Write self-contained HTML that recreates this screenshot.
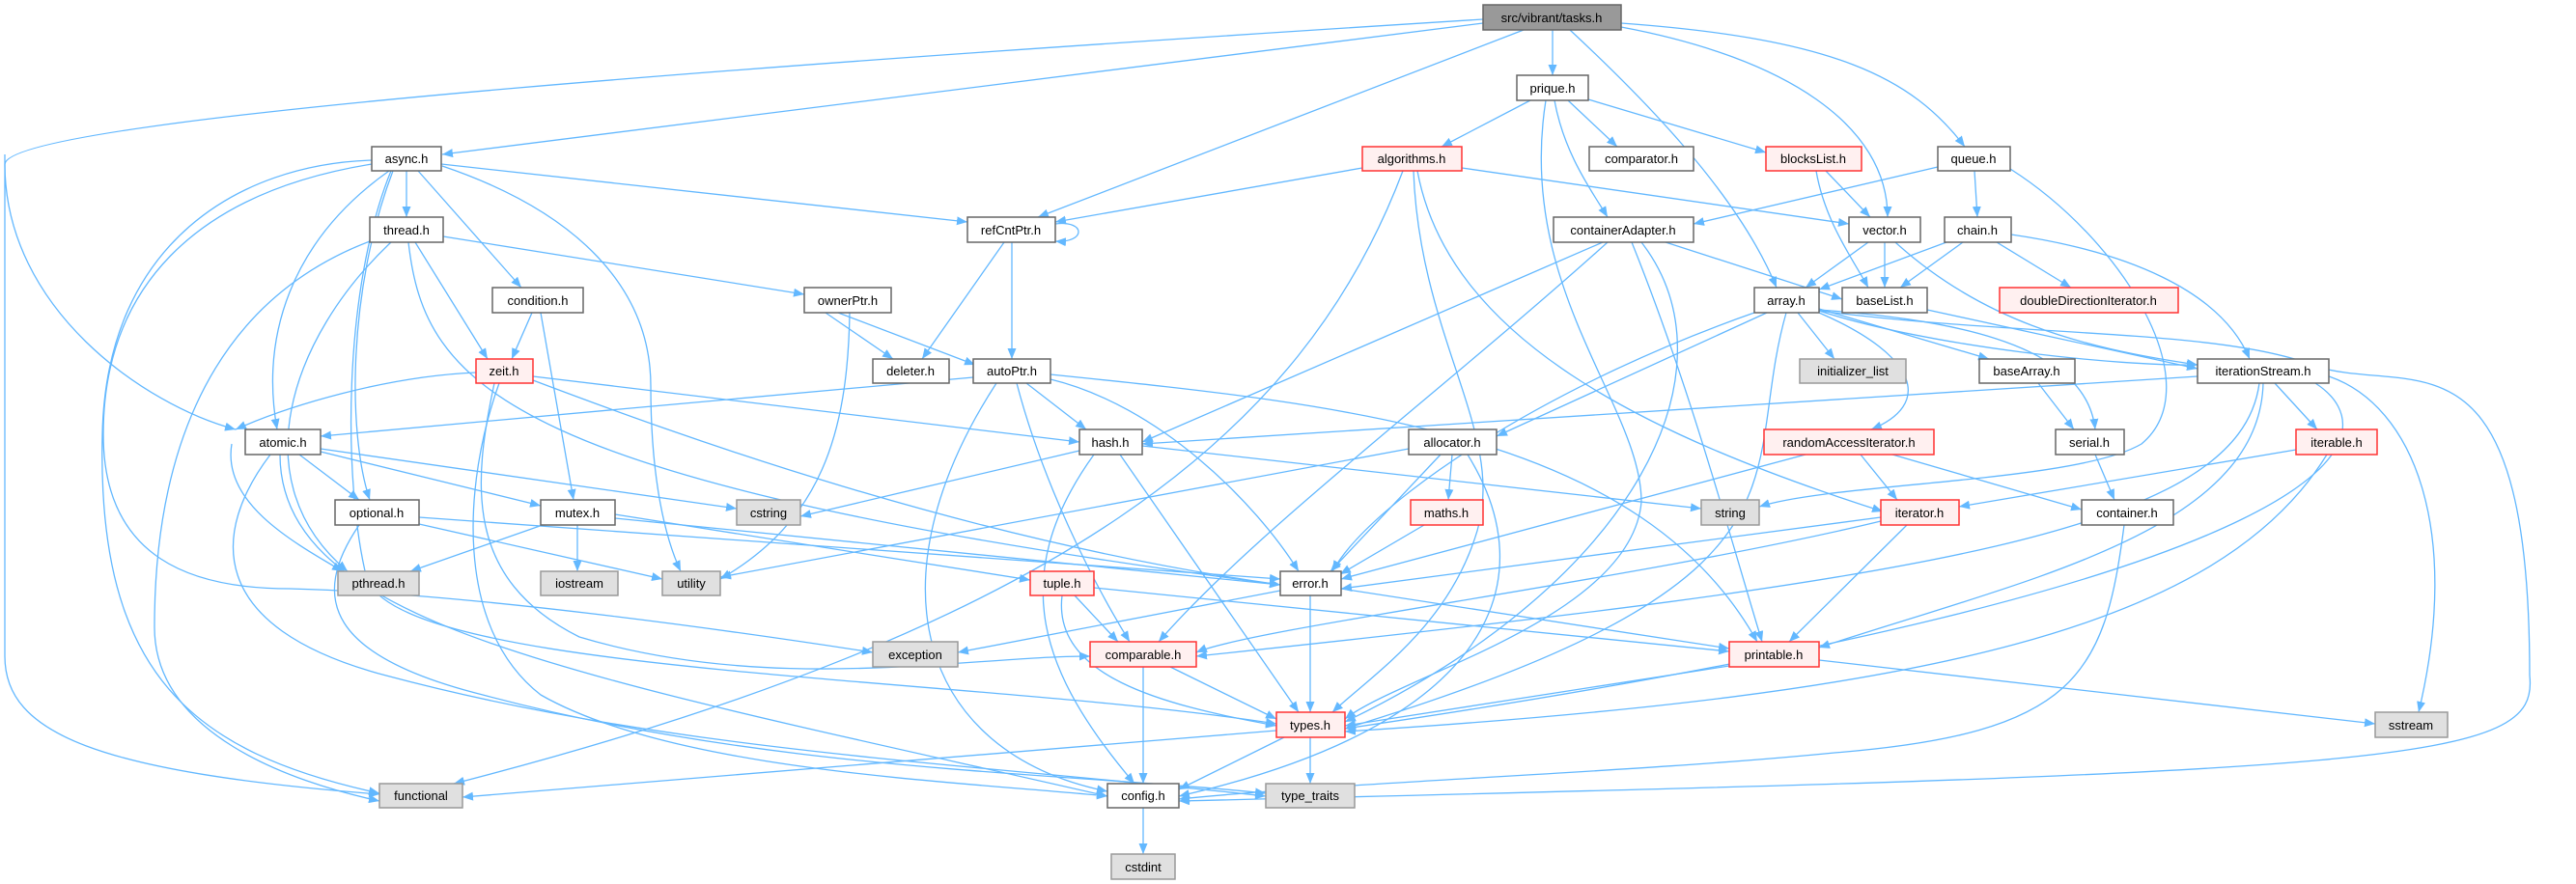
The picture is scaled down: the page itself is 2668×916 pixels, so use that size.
<!DOCTYPE html>
<html><head><meta charset="utf-8"><style>
html,body{margin:0;padding:0;background:#fff;}
svg{display:block;}
text{font-family:"Liberation Sans",sans-serif;font-size:13px;text-anchor:middle;fill:#000;}
.e path{fill:none;stroke:#63b8ff;stroke-width:1.3;}
</style></head><body>
<svg width="2668" height="916" viewBox="0 0 2668 916" xmlns="http://www.w3.org/2000/svg">
<defs><marker id="a" markerWidth="12" markerHeight="10" refX="11" refY="4.5" orient="auto" markerUnits="userSpaceOnUse"><path d="M0,0 L11,4.5 L0,9z" fill="#63b8ff"/></marker></defs>
<g class="e" marker-end="url(#a)">
<path d="M1536,24 L458,160"/>
<path d="M1536,20 C900,60 10,120 5,170 C5,320 150,420 244,445"/>
<path d="M5,160 L5,680 C5,760 100,800 393,823"/>
<path d="M1578,31 L1075,225"/>
<path d="M1608,31 L1608,78"/>
<path d="M1626,31 C1700,100 1800,200 1840,298"/>
<path d="M1679,28 C1850,60 1955,130 1955,225"/>
<path d="M1679,24 C1900,40 1980,80 2035,152"/>
<path d="M1585,104 L1493,152"/>
<path d="M1624,104 L1675,152"/>
<path d="M1610,104 C1620,160 1650,200 1665,225"/>
<path d="M1645,103 L1829,158"/>
<path d="M1601,104 C1570,300 1700,420 1700,520 C1690,640 1450,700 1393,745"/>
<path d="M1411,174 L1093,230"/>
<path d="M1514,174 L1915,232"/>
<path d="M1453,177 C1350,450 1100,650 470,812"/>
<path d="M1464,177 C1470,350 1560,450 1530,550 C1500,650 1420,700 1380,738"/>
<path d="M1468,177 C1500,350 1700,450 1950,530"/>
<path d="M1891,177 L1937,225"/>
<path d="M1881,177 C1890,230 1920,270 1935,298"/>
<path d="M2007,173 L1754,232"/>
<path d="M2045,177 L2048,225"/>
<path d="M2082,175 C2200,250 2290,400 2218,460 C2150,500 1900,500 1822,525"/>
<path d="M1660,251 L1183,458"/>
<path d="M1665,251 C1500,400 1300,550 1200,665"/>
<path d="M1690,251 C1750,400 1790,550 1825,665"/>
<path d="M1725,251 L1908,310"/>
<path d="M1700,251 C1800,380 1700,600 1393,748"/>
<path d="M1935,251 L1870,298"/>
<path d="M1952,251 L1952,298"/>
<path d="M1963,251 C2050,330 2150,360 2276,378"/>
<path d="M2016,251 L1884,300"/>
<path d="M2033,251 L1968,298"/>
<path d="M2068,251 L2145,298"/>
<path d="M2083,243 C2200,260 2300,300 2330,372"/>
<path d="M1093,232 C1125,228 1125,252 1093,250"/>
<path d="M1040,251 L955,372"/>
<path d="M1048,251 L1048,372"/>
<path d="M421,177 L421,225"/>
<path d="M433,177 L540,298"/>
<path d="M457,170 L1002,230"/>
<path d="M403,177 C300,250 270,350 287,445"/>
<path d="M407,177 C360,300 360,450 383,518"/>
<path d="M458,172 C600,220 674,300 674,400 C674,500 690,560 705,592"/>
<path d="M385,166 C250,170 110,250 106,450 C100,700 200,780 393,822"/>
<path d="M385,170 C200,200 107,300 107,450 C107,580 200,610 300,610 C500,615 800,660 904,676"/>
<path d="M405,177 C355,300 355,500 380,600 C420,700 1000,700 1322,750"/>
<path d="M459,245 L833,305"/>
<path d="M430,251 L505,372"/>
<path d="M405,251 C300,350 250,500 360,592"/>
<path d="M383,250 C200,320 160,500 160,650 C160,760 300,810 393,830"/>
<path d="M423,251 C440,400 520,500 1326,606"/>
<path d="M551,324 L530,372"/>
<path d="M560,324 L594,518"/>
<path d="M855,324 L925,372"/>
<path d="M868,324 L1010,378"/>
<path d="M880,324 C878,450 850,540 746,600"/>
<path d="M493,386 C400,390 300,420 244,445"/>
<path d="M552,390 L1118,458"/>
<path d="M552,394 C700,450 1000,560 1326,606"/>
<path d="M517,397 C480,500 470,650 560,720 C700,800 1000,810 1147,825"/>
<path d="M512,397 C490,500 480,600 600,660 C800,720 1000,680 1129,680"/>
<path d="M1008,391 L332,452"/>
<path d="M1063,397 L1125,445"/>
<path d="M1088,393 C1200,420 1300,520 1345,592"/>
<path d="M1053,397 C1080,500 1130,600 1170,665"/>
<path d="M1032,397 C900,600 950,780 1147,820"/>
<path d="M1088,388 C1400,420 1700,450 1820,665"/>
<path d="M1830,324 L1550,452"/>
<path d="M1817,324 C1600,400 1420,520 1380,592"/>
<path d="M1862,324 L1900,372"/>
<path d="M1884,320 L2060,372"/>
<path d="M1884,322 C2000,360 2200,380 2276,378"/>
<path d="M1884,324 C1990,370 2000,420 1938,445"/>
<path d="M1884,321 C2000,330 2160,350 2170,445"/>
<path d="M1884,322 C2100,350 2300,340 2400,380 C2500,410 2620,330 2620,700 C2630,790 2500,800 1221,830"/>
<path d="M1850,324 C1800,500 1900,600 1393,755"/>
<path d="M1996,321 L2276,382"/>
<path d="M2276,390 L1183,460"/>
<path d="M2356,397 L2400,445"/>
<path d="M2340,397 C2320,550 2000,600 1239,680"/>
<path d="M2344,397 C2340,550 2100,600 1884,671"/>
<path d="M2398,397 C2480,450 2450,600 1393,755"/>
<path d="M2412,390 C2500,420 2550,550 2505,738"/>
<path d="M2111,397 L2148,445"/>
<path d="M310,471 L372,518"/>
<path d="M332,468 L560,524"/>
<path d="M332,465 L763,527"/>
<path d="M290,471 C290,650 600,700 1147,825"/>
<path d="M280,471 C220,550 210,650 400,700 C700,780 1000,790 1311,825"/>
<path d="M240,460 C230,520 300,560 355,592"/>
<path d="M1118,467 L829,535"/>
<path d="M1183,462 L1762,527"/>
<path d="M1160,471 L1345,738"/>
<path d="M1133,471 C1040,600 1080,700 1175,812"/>
<path d="M1504,471 L1500,518"/>
<path d="M1492,471 L1378,592"/>
<path d="M1459,465 L746,598"/>
<path d="M1520,471 C1600,600 1550,750 1221,825"/>
<path d="M1927,471 L1965,518"/>
<path d="M1960,471 L2156,528"/>
<path d="M1870,471 L1389,600"/>
<path d="M2170,471 L2190,518"/>
<path d="M2378,466 L2029,525"/>
<path d="M2410,471 C2300,650 2000,720 1393,758"/>
<path d="M434,536 L1326,600"/>
<path d="M434,543 L686,600"/>
<path d="M372,544 C320,620 340,680 500,720 C800,800 1100,800 1311,822"/>
<path d="M562,544 L425,592"/>
<path d="M598,544 L598,592"/>
<path d="M637,537 L1326,606"/>
<path d="M637,533 L1067,601"/>
<path d="M1475,544 L1388,595"/>
<path d="M1948,536 L1389,610"/>
<path d="M1948,540 C1700,600 1300,650 1239,676"/>
<path d="M1975,544 L1853,665"/>
<path d="M2200,544 C2180,700 2150,760 1900,780 C1700,800 1400,810 1221,828"/>
<path d="M1113,617 L1158,665"/>
<path d="M1100,617 C1090,700 1200,730 1322,752"/>
<path d="M1133,609 L1791,675"/>
<path d="M1326,612 L992,676"/>
<path d="M1357,617 L1357,738"/>
<path d="M1389,610 L1791,672"/>
<path d="M1212,691 L1322,745"/>
<path d="M1184,691 L1184,812"/>
<path d="M1791,690 L1393,752"/>
<path d="M1884,684 L2460,750"/>
<path d="M1330,764 L1221,818"/>
<path d="M1357,764 L1357,812"/>
<path d="M1322,757 L479,826"/>
<path d="M1184,837 L1184,885"/>
</g>
<g stroke-width="1.5">
<rect x="1536" y="5" width="143" height="26" fill="#999" stroke="#666"/><text x="1607" y="23">src/vibrant/tasks.h</text>
<g fill="#fff" stroke="#666">
<rect x="1571" y="78" width="74" height="26"/>
<rect x="385" y="152" width="72" height="25"/>
<rect x="1646" y="152" width="108" height="25"/>
<rect x="2007" y="152" width="75" height="25"/>
<rect x="383" y="225" width="76" height="26"/>
<rect x="1002" y="225" width="91" height="26"/>
<rect x="1609" y="225" width="145" height="26"/>
<rect x="1915" y="225" width="74" height="26"/>
<rect x="2014" y="225" width="69" height="26"/>
<rect x="510" y="298" width="94" height="26"/>
<rect x="833" y="298" width="90" height="26"/>
<rect x="1817" y="298" width="67" height="26"/>
<rect x="1908" y="298" width="88" height="26"/>
<rect x="904" y="372" width="79" height="25"/>
<rect x="1008" y="372" width="80" height="25"/>
<rect x="2050" y="372" width="99" height="25"/>
<rect x="2276" y="372" width="136" height="25"/>
<rect x="254" y="445" width="78" height="26"/>
<rect x="1118" y="445" width="65" height="26"/>
<rect x="1459" y="445" width="91" height="26"/>
<rect x="2129" y="445" width="71" height="26"/>
<rect x="347" y="518" width="87" height="26"/>
<rect x="560" y="518" width="77" height="26"/>
<rect x="2156" y="518" width="95" height="26"/>
<rect x="1326" y="592" width="63" height="25"/>
<rect x="1147" y="812" width="74" height="25"/>
</g>
<g fill="#fff0f0" stroke="#f33">
<rect x="1411" y="152" width="103" height="25"/>
<rect x="1829" y="152" width="99" height="25"/>
<rect x="2071" y="298" width="185" height="26"/>
<rect x="493" y="372" width="59" height="25"/>
<rect x="1827" y="445" width="176" height="26"/>
<rect x="2378" y="445" width="84" height="26"/>
<rect x="1461" y="518" width="75" height="26"/>
<rect x="1948" y="518" width="81" height="26"/>
<rect x="1067" y="592" width="66" height="25"/>
<rect x="1129" y="665" width="110" height="26"/>
<rect x="1791" y="665" width="93" height="26"/>
<rect x="1322" y="738" width="71" height="26"/>
</g>
<g fill="#e0e0e0" stroke="#999">
<rect x="1864" y="372" width="110" height="25"/>
<rect x="763" y="518" width="66" height="26"/>
<rect x="1762" y="518" width="60" height="26"/>
<rect x="350" y="592" width="84" height="25"/>
<rect x="560" y="592" width="80" height="25"/>
<rect x="686" y="592" width="60" height="25"/>
<rect x="904" y="665" width="88" height="26"/>
<rect x="2460" y="738" width="75" height="26"/>
<rect x="393" y="812" width="86" height="25"/>
<rect x="1311" y="812" width="92" height="25"/>
<rect x="1151" y="885" width="66" height="26"/>
</g>
</g>
<g>
<text x="1608" y="96">prique.h</text>
<text x="421" y="169">async.h</text>
<text x="1462" y="169">algorithms.h</text>
<text x="1700" y="169">comparator.h</text>
<text x="1878" y="169">blocksList.h</text>
<text x="2044" y="169">queue.h</text>
<text x="421" y="243">thread.h</text>
<text x="1047" y="243">refCntPtr.h</text>
<text x="1681" y="243">containerAdapter.h</text>
<text x="1952" y="243">vector.h</text>
<text x="2048" y="243">chain.h</text>
<text x="557" y="316">condition.h</text>
<text x="878" y="316">ownerPtr.h</text>
<text x="1850" y="316">array.h</text>
<text x="1952" y="316">baseList.h</text>
<text x="2163" y="316">doubleDirectionIterator.h</text>
<text x="522" y="389">zeit.h</text>
<text x="943" y="389">deleter.h</text>
<text x="1048" y="389">autoPtr.h</text>
<text x="1919" y="389">initializer_list</text>
<text x="2099" y="389">baseArray.h</text>
<text x="2344" y="389">iterationStream.h</text>
<text x="293" y="463">atomic.h</text>
<text x="1150" y="463">hash.h</text>
<text x="1504" y="463">allocator.h</text>
<text x="1915" y="463">randomAccessIterator.h</text>
<text x="2164" y="463">serial.h</text>
<text x="2420" y="463">iterable.h</text>
<text x="390" y="536">optional.h</text>
<text x="598" y="536">mutex.h</text>
<text x="796" y="536">cstring</text>
<text x="1498" y="536">maths.h</text>
<text x="1792" y="536">string</text>
<text x="1988" y="536">iterator.h</text>
<text x="2203" y="536">container.h</text>
<text x="392" y="609">pthread.h</text>
<text x="600" y="609">iostream</text>
<text x="716" y="609">utility</text>
<text x="1100" y="609">tuple.h</text>
<text x="1357" y="609">error.h</text>
<text x="948" y="683">exception</text>
<text x="1184" y="683">comparable.h</text>
<text x="1837" y="683">printable.h</text>
<text x="1357" y="756">types.h</text>
<text x="2497" y="756">sstream</text>
<text x="436" y="829">functional</text>
<text x="1184" y="829">config.h</text>
<text x="1357" y="829">type_traits</text>
<text x="1184" y="903">cstdint</text>
</g>
</svg>
</body></html>
